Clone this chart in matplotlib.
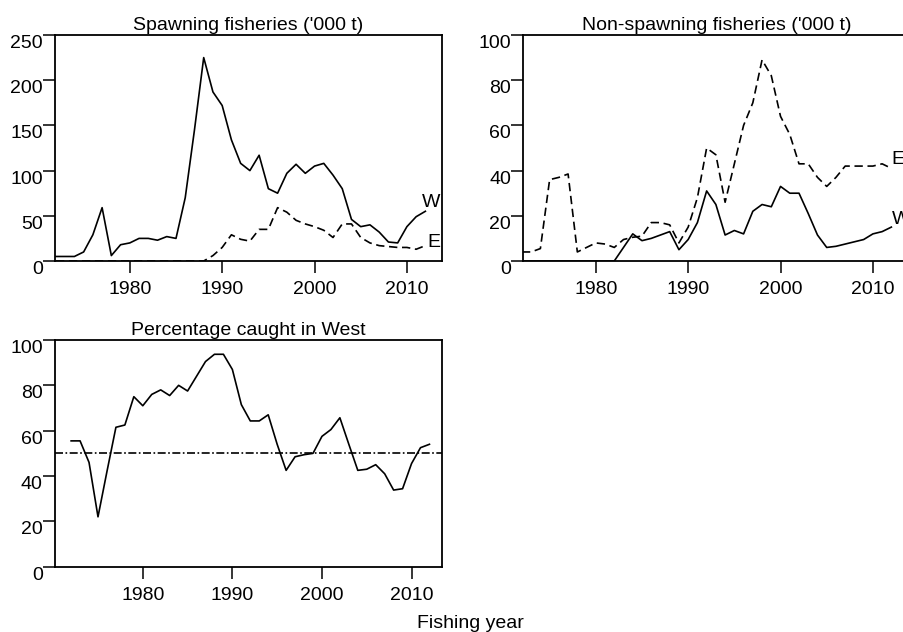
import matplotlib
matplotlib.use("Agg")
import matplotlib.pyplot as plt
import numpy as np

plt.rcParams['font.family'] = ['Liberation Sans', 'DejaVu Sans']

years = np.arange(1972, 2013)

# spawning fisheries ('000 t)
spawn_w = [5, 5, 5, 10, 29, 59, 6, 18, 20, 25,
           25, 23, 27, 25, 70, 145, 225, 187, 172, 134,
           108, 100, 117, 80, 75, 97, 107, 97, 105, 108,
           95, 80, 46, 38, 40, 32, 21, 20, 38, 49, 55]
spawn_e = [0, 0, 0, 0, 0, 0, 0, 0, 0, 0,
           0, 0, 0, 0, 0, 0, 0, 6, 15, 29,
           24, 22, 35, 35, 59, 54, 45, 41, 38, 34,
           26, 41, 41, 26, 20, 17, 16, 15, 15, 13, 17]

# non-spawning fisheries ('000 t)
nonspawn_w = [0, 0, 0, 0, 0, 0, 0, 0, 0, 0,
              0, 6, 12, 9, 10, 11.5, 13, 5, 9.5, 17,
              31, 25, 11.5, 13.5, 12, 22, 25, 24, 33, 30,
              30, 21, 11.5, 6, 6.5, 7.5, 8.5, 9.5, 12, 13, 15]
nonspawn_e = [4, 4, 5.5, 36, 37, 38.5, 4, 6, 8, 7.5,
              6, 9.5, 10.5, 11, 17, 17, 16, 8, 15, 28,
              50, 47, 26, 43, 60, 70, 89, 82, 64, 56,
              43, 43, 37, 33, 37, 42, 42, 42, 42, 43, 41]

# percentage caught in West
pct_west = [55.5, 55.5, 46, 22, 42, 61.5, 62.5, 75, 71, 76,
            78, 75.5, 80, 77.5, 84, 90.5, 93.7, 93.7, 87, 71.5,
            64.3, 64.3, 67, 54, 42.5, 48.5, 49.4, 50, 57.5, 60.5,
            65.7, 54, 42.5, 43, 45, 41, 33.8, 34.4, 45.5, 52.5, 54]

xticks = [1980, 1990, 2000, 2010]
FS = 14
LW = 1.2
dashed = (0, (5, 2.8))
dashdot = (0, (4.8, 1.5, 1, 1.5))

fig = plt.figure(figsize=(9.04, 6.32), dpi=100)
ax1 = fig.add_axes([55/904, 1-261/632, 387/904, 226/632])
ax2 = fig.add_axes([523.3/904, 1-261/632, 387/904, 226/632])
ax3 = fig.add_axes([55/904, 1-566.7/632, 387/904, 226.7/632])


def style(ax, xlim, ymax, ystep, title):
    ax.set_xlim(*xlim)
    ax.set_ylim(0, ymax)
    ax.set_xticks(xticks)
    ax.set_xticklabels([str(t) for t in xticks], fontsize=FS)
    yt = np.arange(0, ymax + 1, ystep)
    ax.set_yticks(yt)
    ax.set_yticklabels([str(int(v)) for v in yt], fontsize=FS, va='top')
    ax.tick_params(direction='out', length=8.4, width=1.1, pad=0.5, axis='y')
    ax.tick_params(direction='out', length=8.4, width=1.1, pad=6, axis='x')
    for s in ax.spines.values():
        s.set_linewidth(1.3)
    ax.set_title(title, fontsize=FS, pad=3.6)


ax1.plot(years, spawn_w, color='black', lw=LW)
ax1.plot(years, spawn_e, color='black', lw=LW, linestyle=dashed)
style(ax1, (1971.9, 2013.8), 250, 50, "Spawning fisheries ('000 t)")
ax1.text(2012.6, 65, "W", fontsize=FS, ha='center', va='center')
ax1.text(2012.9, 21, "E", fontsize=FS, ha='center', va='center')

ax2.plot(years, nonspawn_w, color='black', lw=LW)
ax2.plot(years, nonspawn_e, color='black', lw=LW, linestyle=dashed)
style(ax2, (1972.15, 2014.05), 100, 20, "Non-spawning fisheries ('000 t)")
ax2.text(2012.7, 45, "E", fontsize=FS, ha='center', va='center')
ax2.text(2013.1, 18.5, "W", fontsize=FS, ha='center', va='center')

ax3.plot(years, pct_west, color='black', lw=LW)
ax3.axhline(50, color='black', lw=LW, linestyle=dashdot)
style(ax3, (1970.2, 2013.4), 100, 20, "Percentage caught in West")

fig.text(470/904, 1-627.5/632, "Fishing year", fontsize=FS, ha='center', va='baseline')

fig.savefig("out.png", dpi=100)
